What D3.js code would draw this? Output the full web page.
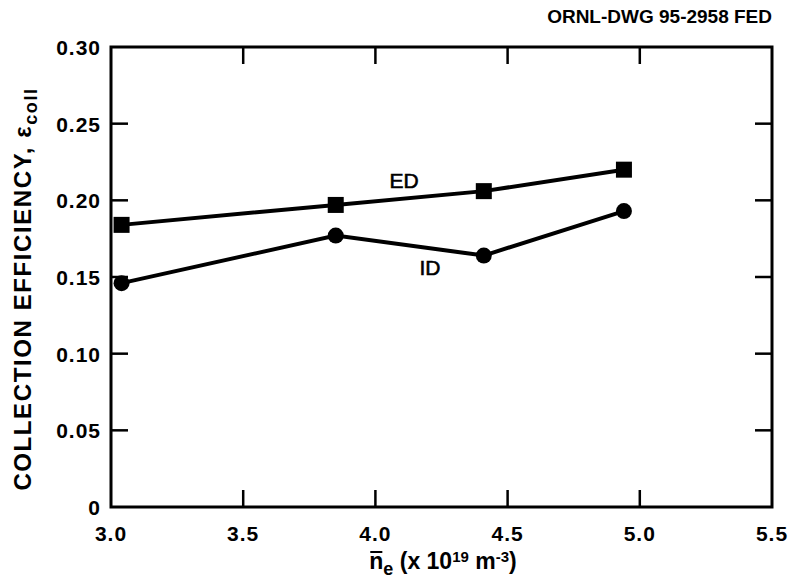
<!DOCTYPE html>
<html><head><meta charset="utf-8">
<script src="https://cdn.jsdelivr.net/npm/d3@7"></script>
<style>
body{margin:0;background:#fff;}
text{font-family:"Liberation Sans",Arial,Helvetica,sans-serif;font-weight:bold;fill:#000;}
</style></head>
<body><svg id="c" width="793" height="587"></svg>
<script>
const density = [3.04, 3.85, 4.41, 4.94];
const edValues = [0.184, 0.197, 0.206, 0.220];
const idValues = [0.146, 0.177, 0.164, 0.193];
const xTicks = [3.0, 3.5, 4.0, 4.5, 5.0, 5.5];
const yTicks = [0, 0.05, 0.10, 0.15, 0.20, 0.25, 0.30];
const yTickLabels = ["0", "0.05", "0.10", "0.15", "0.20", "0.25", "0.30"];

const svg = d3.select("#c");
const x = d3.scaleLinear().domain([3.0, 5.5]).range([111, 772]);
const y = d3.scaleLinear().domain([0, 0.30]).range([507, 47]);
const tl = 17;

// frame
svg.append("rect").attr("x", x(3.0)).attr("y", y(0.30))
  .attr("width", x(5.5) - x(3.0)).attr("height", y(0) - y(0.30))
  .attr("fill", "none").attr("stroke", "#000").attr("stroke-width", 3);

// ticks
const inner = xTicks.slice(1, -1);
svg.selectAll(".xb").data(inner).enter().append("line")
  .attr("x1", d => x(d)).attr("x2", d => x(d)).attr("y1", y(0)).attr("y2", y(0) - tl)
  .attr("stroke", "#000").attr("stroke-width", 2.5);
svg.selectAll(".xt").data(inner).enter().append("line")
  .attr("x1", d => x(d)).attr("x2", d => x(d)).attr("y1", y(0.30)).attr("y2", y(0.30) + tl)
  .attr("stroke", "#000").attr("stroke-width", 2.5);
const yin = yTicks.slice(1, -1);
svg.selectAll(".yl").data(yin).enter().append("line")
  .attr("x1", x(3.0)).attr("x2", x(3.0) + tl).attr("y1", d => y(d)).attr("y2", d => y(d))
  .attr("stroke", "#000").attr("stroke-width", 2.5);
svg.selectAll(".yr").data(yin).enter().append("line")
  .attr("x1", x(5.5)).attr("x2", x(5.5) - tl).attr("y1", d => y(d)).attr("y2", d => y(d))
  .attr("stroke", "#000").attr("stroke-width", 2.5);

// tick labels
svg.selectAll(".xlab").data(xTicks).enter().append("text")
  .attr("x", d => x(d)).attr("y", 541).attr("text-anchor", "middle")
  .attr("font-size", 21).attr("letter-spacing", 1)
  .text(d => d.toFixed(1));
svg.selectAll(".ylab").data(yTicks).enter().append("text")
  .attr("x", 101).attr("y", d => y(d) + 8).attr("text-anchor", "end")
  .attr("font-size", 21).attr("letter-spacing", 1)
  .text((d, i) => yTickLabels[i]);

// lines
const line = d3.line().x((d, i) => x(density[i])).y(d => y(d));
svg.append("path").datum(edValues).attr("d", line).attr("fill", "none")
  .attr("stroke", "#000").attr("stroke-width", 4);
svg.append("path").datum(idValues).attr("d", line).attr("fill", "none")
  .attr("stroke", "#000").attr("stroke-width", 4);

const sq = 16;
svg.selectAll(".sq").data(edValues).enter().append("rect")
  .attr("x", (d, i) => x(density[i]) - sq / 2).attr("y", d => y(d) - sq / 2)
  .attr("width", sq).attr("height", sq).attr("fill", "#000");
svg.selectAll(".ci").data(idValues).enter().append("circle")
  .attr("cx", (d, i) => x(density[i])).attr("cy", d => y(d)).attr("r", 8).attr("fill", "#000");

// series labels
svg.append("text").attr("x", 404).attr("y", 188).attr("text-anchor", "middle")
  .attr("font-size", 21).style("font-weight", "normal").attr("stroke", "#000").attr("stroke-width", 0.6).text("ED");
svg.append("text").attr("x", 430).attr("y", 275).attr("text-anchor", "middle")
  .attr("font-size", 21).style("font-weight", "normal").attr("stroke", "#000").attr("stroke-width", 0.6).text("ID");

// header
svg.append("text").attr("x", 772).attr("y", 23).attr("text-anchor", "end")
  .attr("font-size", 19).text("ORNL-DWG 95-2958 FED");

// y axis title
const yt = svg.append("text").attr("transform", "translate(31,289) rotate(-90)")
  .attr("text-anchor", "middle").attr("font-size", 24).attr("letter-spacing", 1.6);
yt.append("tspan").text("COLLECTION EFFICIENCY, ε");
yt.append("tspan").attr("dy", 6).attr("font-size", 18).text("coll");

// x axis title
const xt = svg.append("text").attr("x", 443).attr("y", 569).attr("text-anchor", "middle")
  .attr("font-size", 23);
const nSpan = xt.append("tspan").text("n");
xt.append("tspan").attr("dy", 6).attr("font-size", 18).text("e");
xt.append("tspan").attr("dy", -6).text(" (x 10");
xt.append("tspan").attr("dy", -7).attr("font-size", 15).text("19");
xt.append("tspan").attr("dy", 7).text(" m");
xt.append("tspan").attr("dy", -7).attr("font-size", 15).text("-3");
xt.append("tspan").attr("dy", 7).text(")");
// overline above n
const ext = xt.node().getExtentOfChar(0);
svg.append("line").attr("x1", ext.x + 1).attr("x2", ext.x + ext.width - 1)
  .attr("y1", 552).attr("y2", 552).attr("stroke", "#000").attr("stroke-width", 2);
</script></body></html>
